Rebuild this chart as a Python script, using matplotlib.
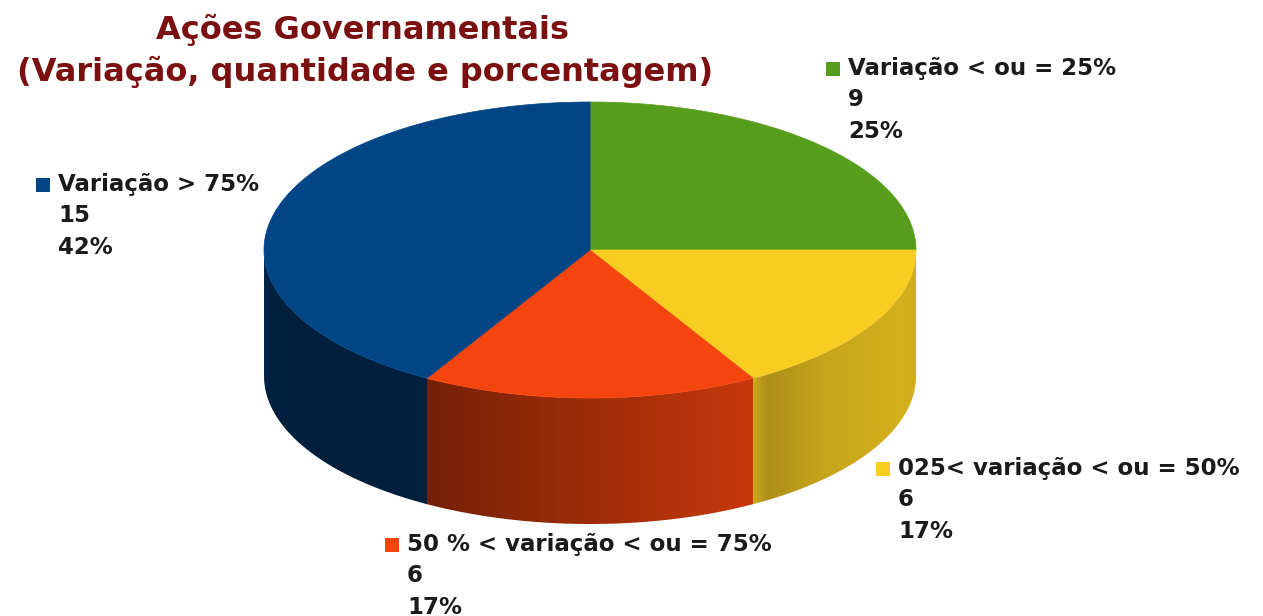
import numpy as np
import matplotlib
matplotlib.use("Agg")
import matplotlib.pyplot as plt
from matplotlib.patches import Polygon
from matplotlib.colors import to_rgb

titulo = ["Ações Governamentais", "(Variação, quantidade e porcentagem)"]
categorias = ["Variação < ou = 25%", "025< variação < ou = 50%",
              "50 % < variação < ou = 75%", "Variação > 75%"]
quantidades = [9, 6, 6, 15]
cores = ["#579D1C", "#F8CD22", "#F5450F", "#004586"]

# posicao das legendas (pixels)
pos_legenda = [(826, 69), (876, 469), (385, 545), (36, 185)]

W, H = 1263, 616
fig = plt.figure(figsize=(W / 100, H / 100), dpi=100)
ax = fig.add_axes([0, 0, 1, 1])
ax.set_xlim(0, W)
ax.set_ylim(H, 0)
ax.axis("off")

cx, cy, rx, ry, prof = 590, 250, 326, 148, 126
total = sum(quantidades)


def borda(t):
    t = np.radians(t)
    return cx + rx * np.cos(t), cy - ry * np.sin(t)


def sombra(t):
    # t em graus, 180..360 (frente do cilindro)
    return np.interp(t, [180, 190, 235, 245, 300, 303, 315, 340, 360],
                     [0.6, 0.47, 0.45, 0.5, 0.82, 0.7, 0.8, 0.86, 0.84])


inicio = 90.0
fatias = []
for q, cor in zip(quantidades, cores):
    fim = inicio - 360.0 * q / total
    fatias.append((inicio, fim, cor))
    inicio = fim

# lateral do cilindro (so a parte da frente), gradiente horizontal recortado
for a0, a1, cor in fatias:
    lo, hi = max(min(a0, a1), -180), min(max(a0, a1), 0)
    if lo >= hi:
        continue
    ts = np.linspace(lo, hi, 200)
    xs, ys = borda(ts)
    pts = list(zip(xs, ys)) + list(zip(xs[::-1], ys[::-1] + prof))
    clip = Polygon(pts, closed=True, facecolor="none", edgecolor="none")
    ax.add_patch(clip)
    x0, x1 = xs.min(), xs.max()
    gx = np.linspace(x0, x1, 400)
    th = 360 - np.degrees(np.arccos(np.clip((gx - cx) / rx, -1, 1)))
    grad = np.array(to_rgb(cor))[None, None, :] * sombra(th)[None, :, None]
    im = ax.imshow(grad, extent=[x0, x1, ys.max() + prof, ys.min()],
                   aspect="auto", interpolation="bilinear", zorder=1)
    im.set_clip_path(clip)

# topo
for a0, a1, cor in fatias:
    ts = np.linspace(a0, a1, 200)
    xs, ys = borda(ts)
    pts = [(cx, cy)] + list(zip(xs, ys))
    ax.add_patch(Polygon(pts, closed=True, facecolor=cor, edgecolor=cor,
                         lw=0.5, zorder=2))

ax.set_xlim(0, W)
ax.set_ylim(H, 0)

fonte = "DejaVu Sans"
ax.text(362, 30, titulo[0], ha="center", va="center", fontsize=23,
        fontweight="bold", color="#7B1010", family=fonte)
ax.text(365, 72, titulo[1], ha="center", va="center", fontsize=23,
        fontweight="bold", color="#7B1010", family=fonte)

for cat, q, cor, (lx, ly) in zip(categorias, quantidades, cores, pos_legenda):
    ax.add_patch(plt.Rectangle((lx, ly - 7), 14, 14, facecolor=cor,
                               edgecolor="none", zorder=3))
    linhas = [cat, str(q), f"{round(100 * q / total)}%"]
    for i, s in enumerate(linhas):
        ax.text(lx + 22, ly + i * 31, s, ha="left", va="center", fontsize=16.5,
                fontweight="bold", color="#1a1a1a", family=fonte, zorder=3)

fig.savefig("out.png", dpi=100)
